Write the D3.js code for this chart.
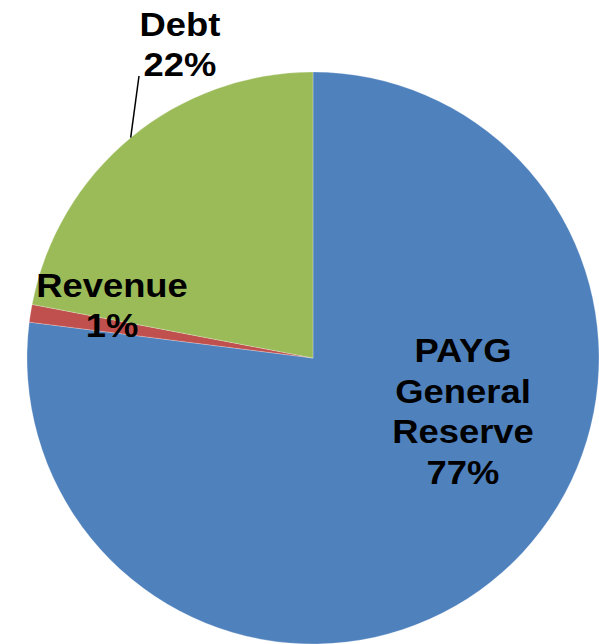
<!DOCTYPE html>
<html>
<head>
<meta charset="utf-8">
<script src="https://cdn.jsdelivr.net/npm/d3@7"></script>
<style>
  body { margin: 0; background: #fff; overflow: hidden; }
  text { font-family: "Liberation Sans", Arial, sans-serif; font-weight: bold; }
</style>
</head>
<body>
<div id="chart"></div>
<script>
// slices, clockwise from 12 o'clock
const categories = ["PAYG General Reserve", "Revenue", "Debt"];
const shares = [77, 1, 22];
const labelLines = [["PAYG", "General", "Reserve", "77%"], ["Revenue", "1%"], ["Debt", "22%"]];

const width = 599, height = 644;
const cx = 313, cy = 358, radius = 286;

const svg = d3.select("#chart")
  .append("svg")
    .attr("width", width)
    .attr("height", height);

const g = svg.append("g")
    .attr("transform", "translate(" + cx + "," + cy + ")");

const color = d3.scaleOrdinal()
  .domain(categories)
  .range(["#4F81BD", "#C0504D", "#9BBB59"]);

const pie = d3.pie().sort(null).value(d => d.value);
const arcs = pie(categories.map((c, i) => ({key: c, value: shares[i]})));

const arc = d3.arc().innerRadius(0).outerRadius(radius);

g.selectAll("path")
  .data(arcs)
  .join("path")
    .attr("d", arc)
    .attr("fill", d => color(d.data.key))
    .attr("stroke", "#fff")
    .attr("stroke-width", 0.25);

// label centres relative to the pie centre (best-fit placement like the original)
const labelPos = [[150, 53], [-201, -53], [-133, -314]];
const lineH = 40.5, fontSize = 34;

const labels = g.selectAll("text.lbl")
  .data(arcs)
  .join("text")
    .attr("class", "lbl")
    .attr("text-anchor", "middle")
    .style("font-size", fontSize + "px")
    // original text is a bit wider than plain Arial
    .attr("transform", (d, i) => "translate(" + labelPos[i][0] + "," + labelPos[i][1] + ") scale(1.07,1)");

labels.each(function(d, i) {
  const lines = labelLines[i];
  const off = -(lines.length - 1) * lineH / 2 + fontSize * 0.35;
  d3.select(this).selectAll("tspan")
    .data(lines)
    .join("tspan")
      .attr("x", 0)
      .attr("y", (t, j) => off + j * lineH)
      .text(t => t);
});

// leader line for Debt, from the slice edge up to its label
const debt = arcs[2];
const edgeAngle = debt.startAngle + (debt.endAngle - debt.startAngle) * 0.5;
const ex = Math.sin(edgeAngle) * radius, ey = -Math.cos(edgeAngle) * radius;
g.append("line")
  .attr("x1", ex)
  .attr("y1", ey)
  .attr("x2", labelPos[2][0] - 41)
  .attr("y2", labelPos[2][1] + 32)
  .attr("stroke", "#000")
  .attr("stroke-width", 1.5);
</script>
</body>
</html>
